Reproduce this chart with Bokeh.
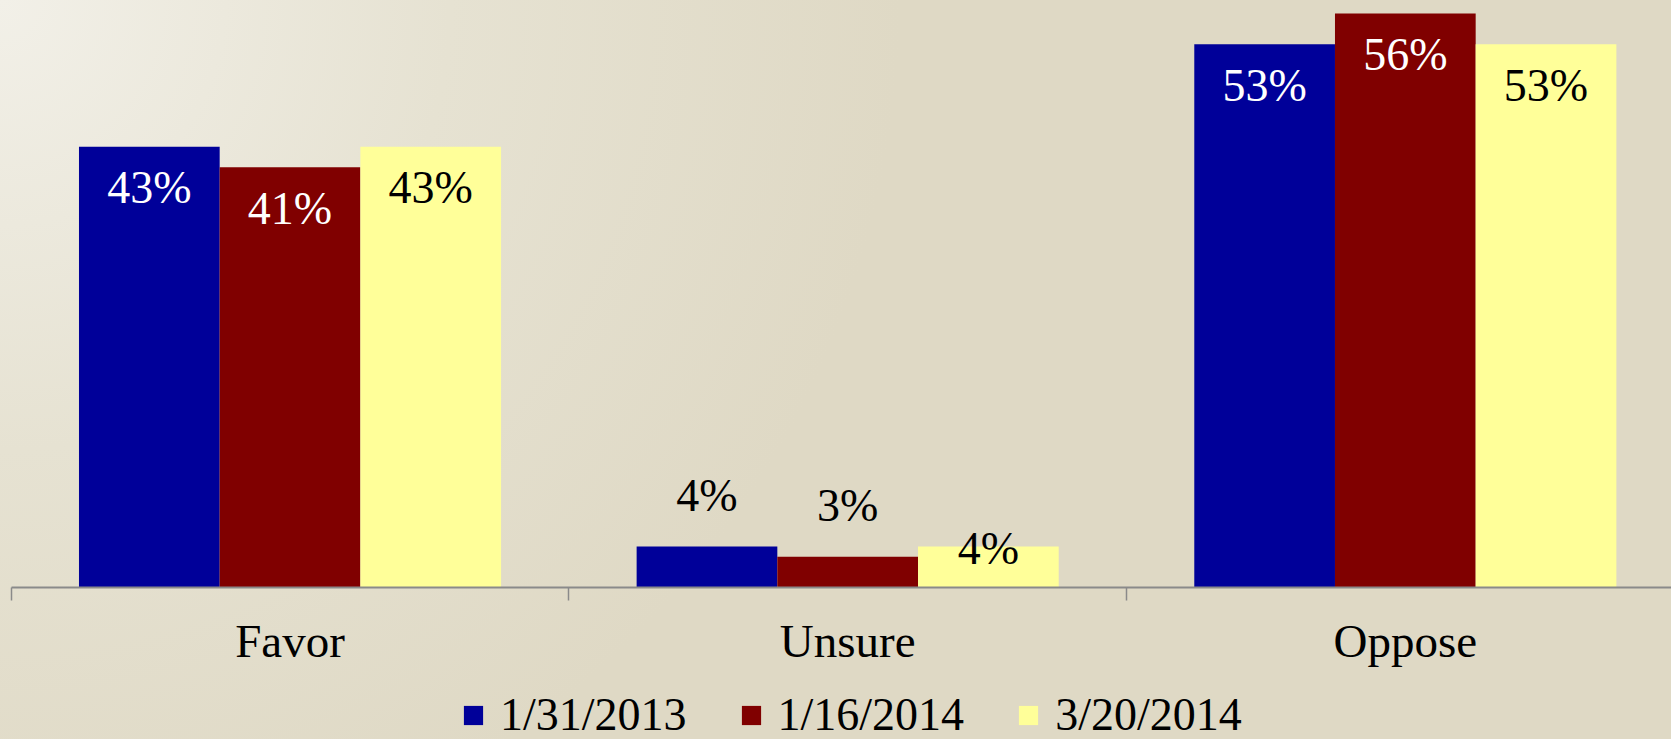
from bokeh.plotting import figure
from bokeh.models import Range1d, FixedTicker, Legend, LegendItem
from bokeh.layouts import column
from bokeh.core.properties import value
from bokeh.embed import file_html
from bokeh.resources import INLINE

# ---- data ----
categories = ["Favor", "Unsure", "Oppose"]
series_labels = ["1/31/2013", "1/16/2014", "3/20/2014"]
values_2013_01_31 = [43, 4, 53]
values_2014_01_16 = [41, 3, 56]
values_2014_03_20 = [43, 4, 53]
series_values = [values_2013_01_31, values_2014_01_16, values_2014_03_20]

# ---- styling ----
colors = ["#000099", "#800000", "#FFFF99"]
inside_text_colors = ["white", "white", "black"]
FONT = "Liberation Serif"

W, H_TOTAL = 1671, 739
H_CHART = 680                 # chart figure; the legend strip takes the rest
CAT0_X = 10.7                 # pixel x of the first category boundary
PX_PER_CAT = 557.65
FRAME_H = 587
PX_PER_PCT = 10.25
BAR_W = 0.2523
INSIDE_OFFSET_PX = 41.0                 # label position below bar top
SMALL_OFFSETS_PX = [-51.5, -51, 2]      # for short bars (negative = above)
GRAD = "#f2f0e8 0px, #e6e2d2 450px, #dfd9c5 900px"

x0 = -CAT0_X / PX_PER_CAT
x1 = x0 + W / PX_PER_CAT
p = figure(width=W, height=H_CHART, output_backend="svg", toolbar_location=None,
           x_range=Range1d(x0, x1),
           y_range=Range1d(0, FRAME_H / PX_PER_PCT),
           min_border_left=0, min_border_right=0, min_border_top=0,
           min_border_bottom=H_CHART - FRAME_H, y_axis_location=None)
p.styles = {"background": f"radial-gradient(circle at 0px 0px, {GRAD})"}
p.background_fill_alpha = 0
p.border_fill_alpha = 0
p.outline_line_color = None
p.xgrid.visible = False
p.ygrid.visible = False

bar_x = []
for si, vals in enumerate(series_values):
    xs = [ci + 0.5 + (si - 1) * BAR_W for ci in range(len(categories))]
    bar_x.append(xs)
    p.vbar(x=xs, top=vals, bottom=0, width=BAR_W,
           fill_color=colors[si], line_color=None)
    ly, lc = [], []
    for v in vals:
        if v >= 10:
            ly.append(v - INSIDE_OFFSET_PX / PX_PER_PCT)
            lc.append(inside_text_colors[si])
        else:
            ly.append(v - SMALL_OFFSETS_PX[si] / PX_PER_PCT)
            lc.append("black")
    p.text(x=xs, y=ly, text=[f"{v}%" for v in vals], text_align="center",
           text_baseline="alphabetic", text_color=lc,
           text_font=value(FONT), text_font_size="46px")

ax = p.xaxis[0]
ax.ticker = FixedTicker(ticks=[i + 0.5 for i in range(len(categories))],
                        minor_ticks=list(range(len(categories) + 1)))
ax.major_label_overrides = {i + 0.5: c for i, c in enumerate(categories)}
ax.bounds = (0, len(categories))
ax.axis_line_color = "#8a8a8a"
ax.axis_line_width = 2
ax.major_tick_line_color = None
ax.minor_tick_line_color = "#8a8a8a"
ax.minor_tick_line_width = 1.5
ax.minor_tick_in = 0
ax.minor_tick_out = 13
ax.major_label_standoff = 14
ax.major_label_text_font = FONT
ax.major_label_text_font_size = "47px"
ax.major_label_text_color = "black"

# ---- legend strip (same series drawn far out of view, only their legend shows) ----
H_LEG = H_TOTAL - H_CHART
pl = figure(width=W, height=H_LEG, output_backend="svg", toolbar_location=None,
            x_range=Range1d(-1000, -999), y_range=Range1d(-1000, -999),
            min_border_left=0, min_border_right=0, min_border_top=0, min_border_bottom=0,
            x_axis_location=None, y_axis_location=None)
pl.styles = {"background": f"radial-gradient(circle at 0px -{H_CHART}px, {GRAD})"}
pl.background_fill_alpha = 0
pl.border_fill_alpha = 0
pl.outline_line_color = None
pl.xgrid.visible = False
pl.ygrid.visible = False

proxies = [pl.vbar(x=xs, top=vals, bottom=0, width=BAR_W, fill_color=c, line_color=None)
           for xs, vals, c in zip(bar_x, series_values, colors)]
legend = Legend(items=[LegendItem(label=s, renderers=[r]) for s, r in zip(series_labels, proxies)],
                orientation="horizontal", location=(461, -2),
                glyph_width=24, glyph_height=24, label_standoff=15, spacing=52,
                padding=0, margin=0, border_line_color=None, background_fill_alpha=0,
                label_text_font=FONT, label_text_font_size="46px", label_text_color="black")
pl.add_layout(legend, "center")

layout = column(p, pl, spacing=0)
open("out.html", "w").write(file_html(layout, INLINE))
